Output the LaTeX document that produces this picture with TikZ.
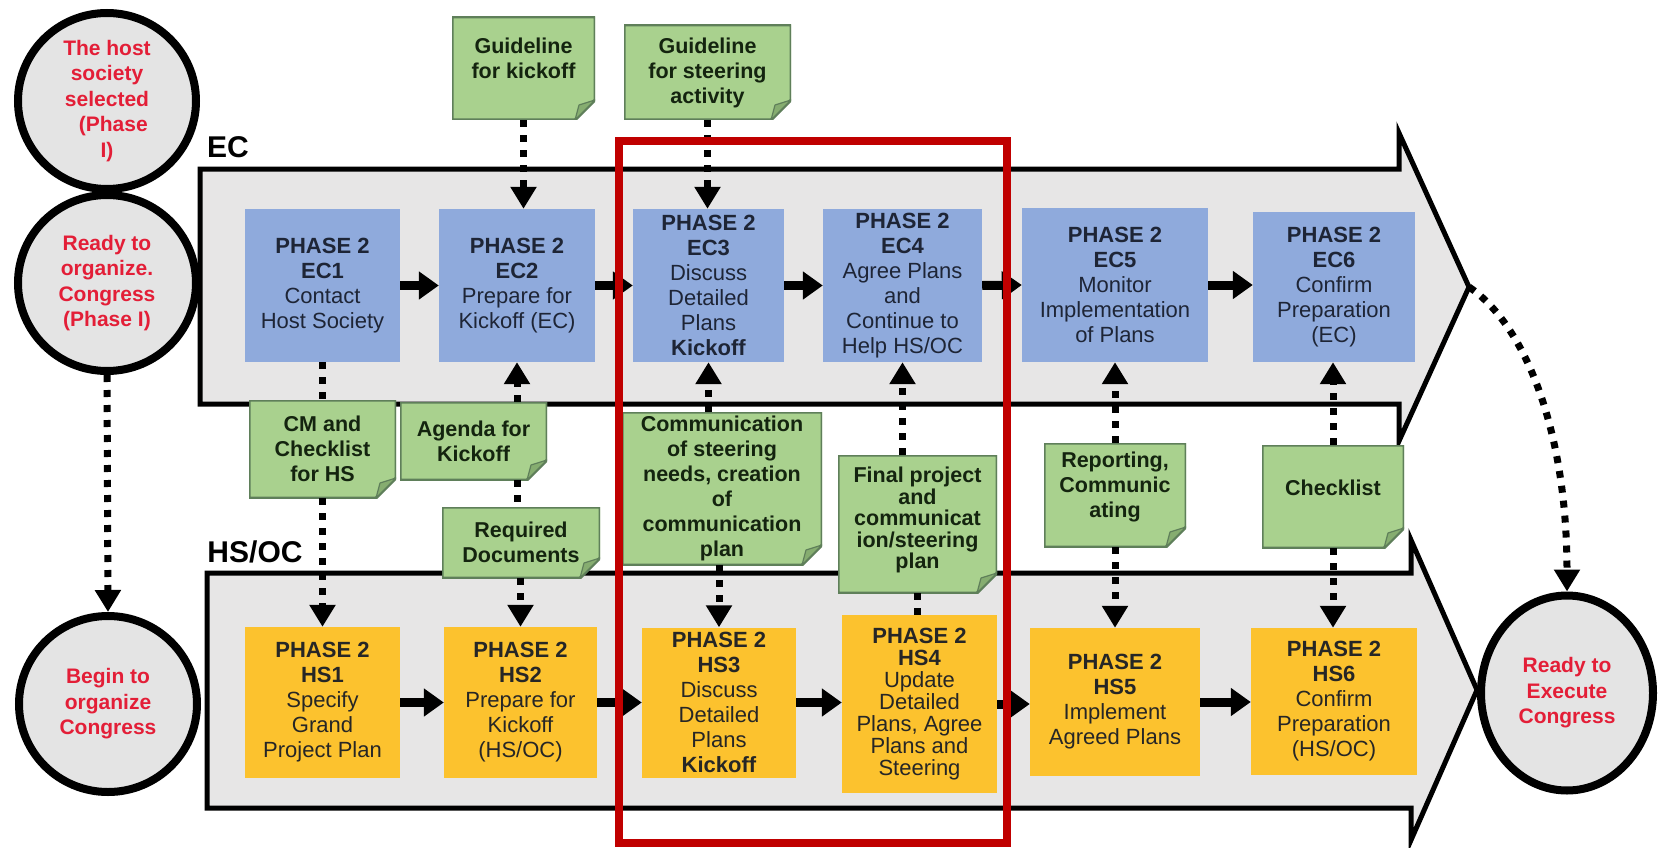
\documentclass[tikz,border=0pt]{standalone}
\usepackage{fontspec}
\setmainfont{Liberation Sans}
\usetikzlibrary{arrows.meta,shapes.geometric}
\definecolor{bandgray}{HTML}{E7E6E6}
\definecolor{circgray}{HTML}{E4E4E4}
\definecolor{ecblue}{HTML}{8FAADC}
\definecolor{hsgold}{HTML}{FCC22E}
\definecolor{notegreen}{HTML}{A9D18E}
\definecolor{noteedge}{HTML}{5F7F5A}
\definecolor{notefold}{HTML}{86AD70}
\definecolor{framered}{HTML}{C00000}
\definecolor{circred}{HTML}{E31E37}
\definecolor{boxtext}{HTML}{1E2536}
\definecolor{notetext}{HTML}{14240F}
\begin{document}
\begin{tikzpicture}[x=1pt,y=-1pt,
  band/.style={fill=bandgray, draw=black, line width=5pt, line join=miter},
  ring/.style={ellipse, draw=black, line width=8pt, fill=circgray, inner sep=0pt},
  ringtext/.style={align=center, text=circred, font=\fontsize{21}{25.5}\selectfont\bfseries, inner sep=0pt},
  ecbox/.style={rectangle, fill=ecblue, inner sep=0pt, align=center, text=boxtext, font=\fontsize{22}{25}\selectfont},
  hsbox/.style={ecbox, fill=hsgold, text=black!85},
  note/.style={rectangle, inner sep=0pt, align=center, text=notetext,
    font=\fontsize{21.5}{25}\selectfont\bfseries,
    path picture={
      \fill[notegreen] (path picture bounding box.north west) -- (path picture bounding box.north east)
        -- ([yshift=20pt]path picture bounding box.south east) -- ([xshift=-20pt]path picture bounding box.south east)
        -- (path picture bounding box.south west) -- cycle;
      \draw[noteedge, line width=3pt, line join=miter] (path picture bounding box.north west) -- (path picture bounding box.north east)
        -- ([yshift=20pt]path picture bounding box.south east) -- ([xshift=-20pt]path picture bounding box.south east)
        -- (path picture bounding box.south west) -- cycle;
      \filldraw[fill=notefold, draw=noteedge, line width=1.2pt, line join=round]
        ([yshift=20pt]path picture bounding box.south east) -- ([xshift=-16pt,yshift=15pt]path picture bounding box.south east)
        -- ([xshift=-20pt]path picture bounding box.south east) -- cycle;
    }},
  dotline/.style={line width=7pt, dash pattern=on 7pt off 8pt},
  dotarrow/.style={dotline, -{Triangle[length=22pt,width=25pt]}},
  flow/.style={line width=9pt, -{Triangle[length=20pt,width=27pt]}},
  lanelabel/.style={font=\fontsize{30}{32}\selectfont\bfseries, inner sep=0pt},
  focusframe/.style={draw=framered, line width=7.5pt}
]
\useasboundingbox (0,0) rectangle (1665,848);
\fill[white] (0,0) rectangle (1665,848);

% lanes
\draw[band] (200,169) -- (1399,169) -- (1399,133) -- (1469,287) -- (1399,441) -- (1399,404) -- (200,404) -- cycle;
\draw[band] (207,573) -- (1411,573) -- (1411,540) -- (1477,690) -- (1411,840) -- (1411,808) -- (207,808) -- cycle;
\coordinate (ectip) at (1469,287);
\node[lanelabel] (eclab) at (228,147) {EC};
\node[lanelabel] (hslab) at (255,552) {HS/OC};

% milestones
\node[ring, minimum width=178pt, minimum height=176pt] (c1) at (107,101) {};
\node[ring, minimum width=178pt, minimum height=176pt] (c2) at (107,283) {};
\node[ring, minimum width=178pt, minimum height=176pt] (c3) at (108,704) {};
\node[ring, minimum width=172pt, minimum height=195pt] (c4) at (1567,693) {};
\node[ringtext] (c1t) at (c1) {The host\\society\\selected\\\hspace*{0.6em}(Phase\\I)};
\node[ringtext] (c2t) at (c2) {Ready to\\organize.\\Congress\\(Phase I)};
\node[ringtext] (c3t) at (c3) {Begin to\\organize\\Congress};
\node[ringtext] (c4t) at (c4) {Ready to\\Execute\\Congress};

% EC steps
\node[ecbox, minimum width=155pt, minimum height=153pt] (ec1) at (322.5,285.5) {\textbf{PHASE 2}\\\textbf{EC1}\\Contact\\Host Society};
\node[ecbox, minimum width=156pt, minimum height=153pt] (ec2) at (517,285.5) {\textbf{PHASE 2}\\\textbf{EC2}\\Prepare for\\Kickoff (EC)};
\node[ecbox, minimum width=151pt, minimum height=153pt] (ec3) at (708.5,285.5) {\textbf{PHASE 2}\\\textbf{EC3}\\Discuss\\Detailed\\Plans\\\textbf{Kickoff}};
\node[ecbox, minimum width=159pt, minimum height=153pt] (ec4) at (902.5,285.5) {\textbf{PHASE 2}\\\textbf{EC4}\\Agree Plans\\and\\Continue to\\Help HS/OC};
\node[ecbox, minimum width=186pt, minimum height=154pt] (ec5) at (1115,285) {\textbf{PHASE 2}\\\textbf{EC5}\\Monitor\\Implementation\\of Plans};
\node[ecbox, minimum width=162pt, minimum height=150pt] (ec6) at (1334,287) {\textbf{PHASE 2}\\\textbf{EC6}\\Confirm\\Preparation\\(EC)};

% HS steps
\node[hsbox, minimum width=155pt, minimum height=151pt] (hs1) at (322.5,702.5) {\textbf{PHASE 2}\\\textbf{HS1}\\Specify\\Grand\\Project Plan};
\node[hsbox, minimum width=153pt, minimum height=151pt] (hs2) at (520.5,702.5) {\textbf{PHASE 2}\\\textbf{HS2}\\Prepare for\\Kickoff\\(HS/OC)};
\node[hsbox, minimum width=154pt, minimum height=150pt] (hs3) at (719,702.5) {\textbf{PHASE 2}\\\textbf{HS3}\\Discuss\\Detailed\\Plans\\\textbf{Kickoff}};
\node[hsbox, minimum width=155pt, minimum height=178pt, font=\fontsize{22}{22}\selectfont] (hs4) at (919.5,704) {\textbf{PHASE 2}\\\textbf{HS4}\\Update\\Detailed\\Plans, Agree\\Plans and\\Steering};
\node[hsbox, minimum width=170pt, minimum height=148pt] (hs5) at (1115,702) {\textbf{PHASE 2}\\\textbf{HS5}\\Implement\\Agreed Plans};
\node[hsbox, minimum width=166pt, minimum height=147pt] (hs6) at (1334,701.5) {\textbf{PHASE 2}\\\textbf{HS6}\\Confirm\\Preparation\\(HS/OC)};

% documents
\node[note, minimum width=143pt, minimum height=103pt, text depth=20pt] (n1) at (523.5,68.5) {Guideline\\for kickoff};
\node[note, minimum width=167pt, minimum height=95pt] (n2) at (707.5,72.5) {Guideline\\for steering\\activity};
\node[note, minimum width=147pt, minimum height=98pt] (n3) at (322.5,449) {CM and\\Checklist\\for HS};
\node[note, minimum width=147pt, minimum height=78pt] (n4) at (473.5,441) {Agenda for\\Kickoff};
\node[note, minimum width=158pt, minimum height=71pt] (n5) at (521,542.5) {Required\\Documents};
\node[note, minimum width=200pt, minimum height=153pt] (n6) at (722,488.5) {Communication\\of steering\\needs, creation\\of\\communication\\plan};
\node[note, minimum width=159pt, minimum height=138pt, font=\fontsize{21.5}{21.5}\selectfont\bfseries, text depth=12pt] (n7) at (917.5,524) {Final project\\and\\communicat\\ion/steering\\plan};
\node[note, minimum width=142pt, minimum height=104pt, text depth=20pt] (n8) at (1115,495) {Reporting,\\Communic\\ating};
\node[note, minimum width=142pt, minimum height=103pt, text depth=18pt] (n9) at (1333,496.5) {Checklist};

% dotted connectors
\draw[dotarrow] (c2.south) -- (c3.north);
\draw[dotarrow] (n1.south) -- (n1.south |- ec2.north);
\draw[dotarrow] (n2.south) -- (n2.south |- ec3.north);
\draw[dotline] (ec1.south) -- (ec1.south |- n3.north);
\draw[dotarrow] (n3.south) -- (n3.south |- hs1.north);
\draw[dotarrow] (ec2.south |- n4.north) -- (ec2.south);
\draw[dotline] (ec2.south |- n4.south) -- (ec2.south |- n5.north);
\draw[dotarrow] (hs2.north |- n5.south) -- (hs2.north);
\draw[dotarrow] (ec3.south |- n6.north) -- (ec3.south);
\draw[dotarrow] (hs3.north |- n6.south) -- (hs3.north);
\draw[dotarrow] (ec4.south |- n7.north) -- (ec4.south);
\draw[dotline] (n7.south) -- (n7.south |- hs4.north);
\draw[dotarrow] (n8.north) -- (n8.north |- ec5.south);
\draw[dotarrow] (n8.south) -- (n8.south |- hs5.north);
\draw[dotarrow] (n9.north) -- (n9.north |- ec6.south);
\draw[dotarrow] (n9.south) -- (n9.south |- hs6.north);
\draw[dotarrow] (ectip) .. controls (1525,325) and (1567,430) .. (c4.north);

% flow arrows
\draw[flow] (ec1.east) -- (ec2.west);
\draw[flow] (ec2.east) -- (ec3.west);
\draw[flow] (ec3.east) -- (ec4.west);
\draw[flow] (ec4.east) -- (ec5.west);
\draw[flow] (ec5.east) -- (ec5.east -| ec6.west);
\draw[flow] (hs1.east) -- (hs2.west);
\draw[flow] (hs2.east) -- (hs2.east -| hs3.west);
\draw[flow] (hs3.east) -- (hs3.east -| hs4.west);
\draw[flow] (hs4.east) -- (hs4.east -| hs5.west);
\draw[flow] (hs5.east) -- (hs5.east -| hs6.west);

% highlight frame
\draw[focusframe] (619,141) rectangle (1007,843);
\end{tikzpicture}
\end{document}
